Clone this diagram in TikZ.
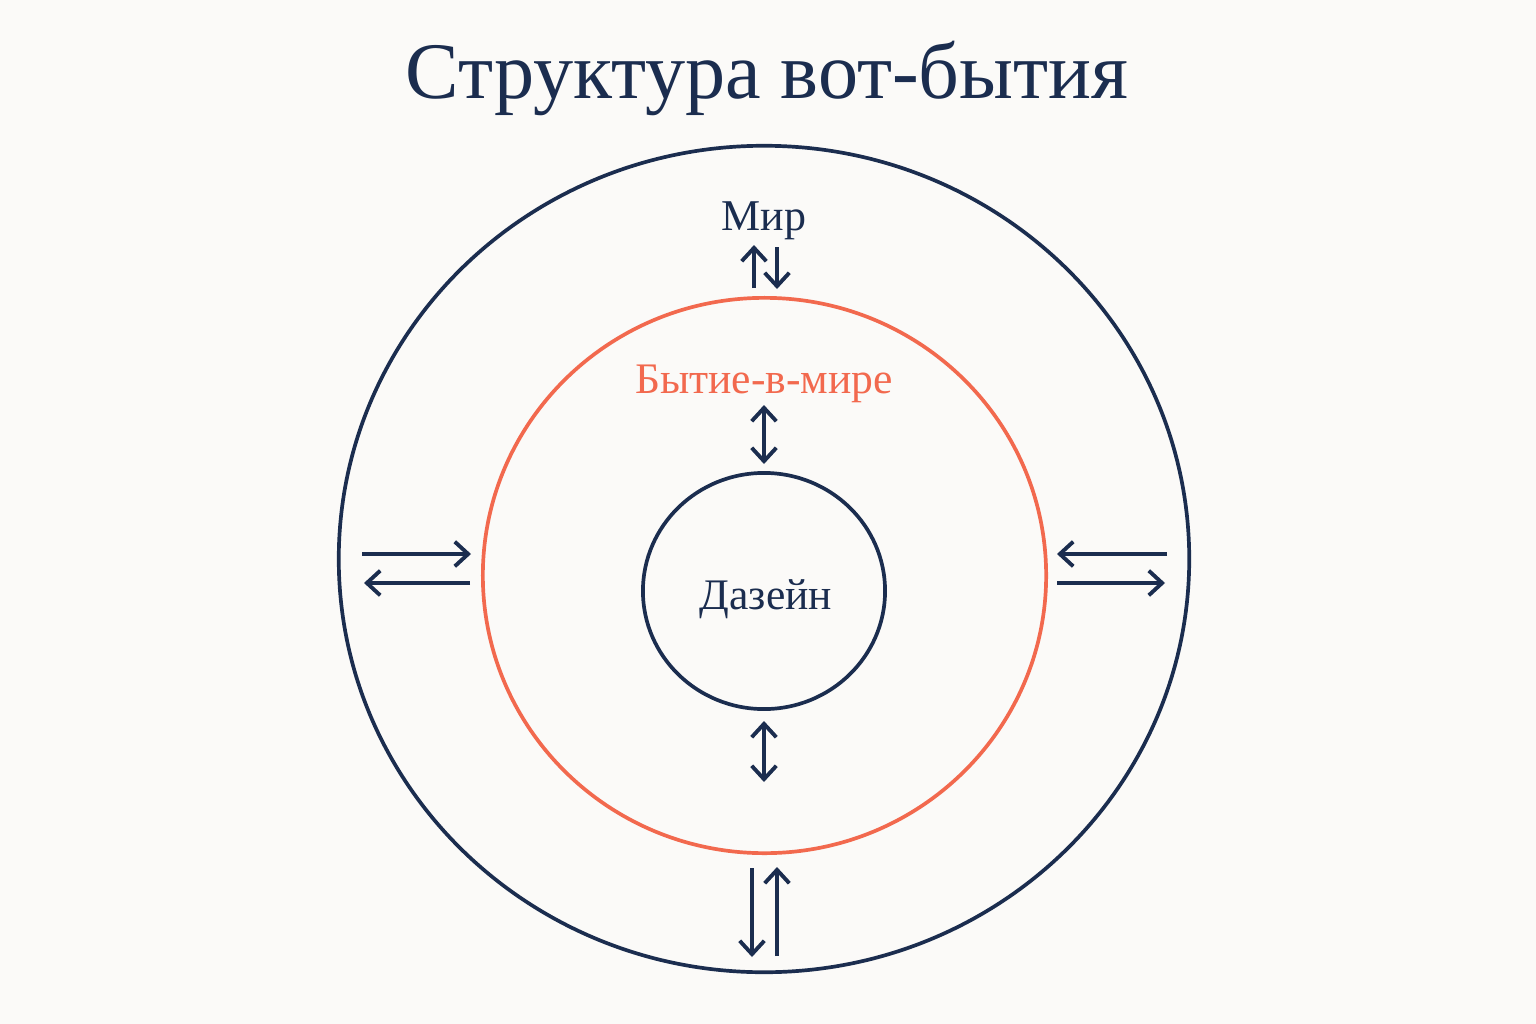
\documentclass[tikz,border=0pt]{standalone}
\usepackage{fontspec}
\setmainfont{Liberation Serif}
\usepackage{tikz}
\usetikzlibrary{arrows.meta}
\definecolor{navy}{HTML}{1B2D4F}
\definecolor{coral}{HTML}{F2694E}
\definecolor{paper}{HTML}{FBFAF8}
\tikzset{
  ring/.style={draw=navy, line width=1.05pt},
  arr/.style={draw=navy, line width=1.1pt, -{Straight Barb[length=3.8pt,width=7pt]}},
  arrb/.style={draw=navy, line width=1.1pt, {Straight Barb[length=3.8pt,width=7pt]}-{Straight Barb[length=3.8pt,width=7pt]}}
}
\newcommand{\link}[6]{\coordinate (#1s) at ( #3 , #4 ); \coordinate (#1e) at ( #5 , #6 ); \draw[#2] (#1s) -- (#1e);}

\begin{document}
\begin{tikzpicture}[x=0.01cm, y=-0.01cm]
        \fill[paper] (0,0) rectangle (1536,1024);
        \useasboundingbox (0,0) rectangle (1536,1024);
        % title
        \node[anchor=base, text=navy, font=\fontsize{22.8}{27}\selectfont] (title) at (767,98) {Структура вот-бытия};
        % rings
        \draw[ring] (764,559) ellipse [x radius=4.25cm, y radius=4.13cm];
        \draw[draw=coral, line width=1.05pt] (764.5,575.5) ellipse [x radius=2.815cm, y radius=2.775cm];
        \draw[ring] (764,591) ellipse [x radius=1.21cm, y radius=1.18cm];
        % labels
        \node[anchor=base, text=navy, font=\fontsize{12.5}{15}\selectfont] (mir) at (764,230) {Мир};
        \node[anchor=base, text=coral, font=\fontsize{12.4}{15}\selectfont] (bvm) at (764,393) {Бытие-в-мире};
        \node[anchor=base, text=navy, font=\fontsize{12.4}{15}\selectfont] (dasein) at (766,609) {Дазейн};
        % top
        \link{ta}{arr}{754}{288}{754}{245}
        \link{tb}{arr}{777}{247}{777}{289}
        % middle
        \link{ma}{arrb}{764}{405}{764}{464}
        \link{mb}{arrb}{764}{721}{764}{782}
        % left
        \link{la}{arr}{362}{554}{471}{554}
        \link{lb}{arr}{470}{583}{364}{583}
        % right
        \link{ra}{arr}{1167}{554}{1057}{554}
        \link{rb}{arr}{1057}{583}{1165}{583}
        % bottom
        \link{ba}{arr}{752}{868}{752}{957}
        \link{bb}{arr}{777}{956}{777}{867}
    \end{tikzpicture}
\end{document}
